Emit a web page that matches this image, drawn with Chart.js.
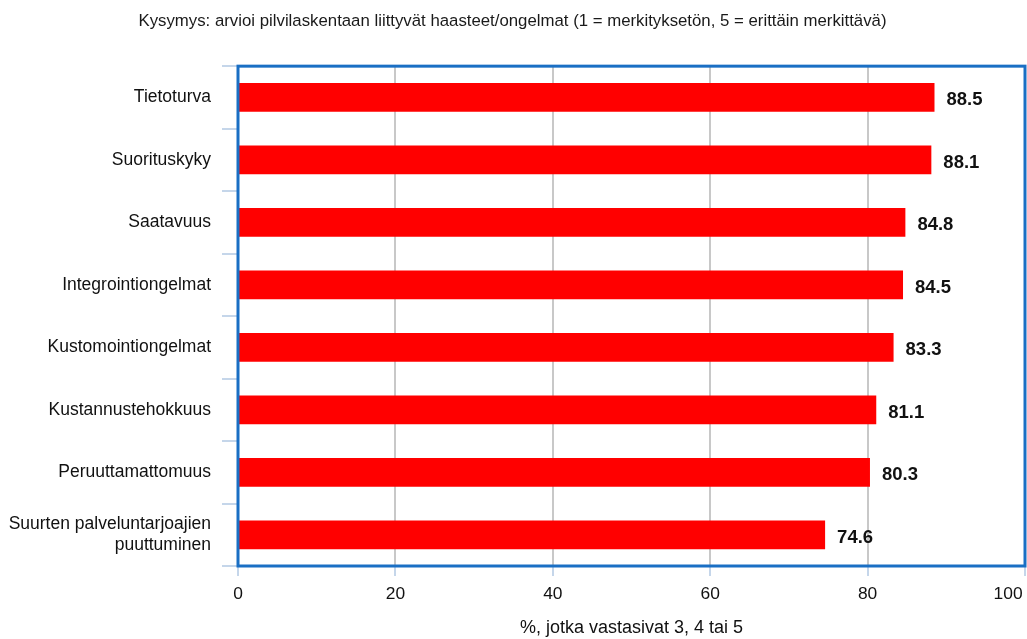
<!DOCTYPE html>
<html><head><meta charset="utf-8">
<script src="https://cdn.jsdelivr.net/npm/chart.js@4"></script>
<style>html,body{margin:0;padding:0;background:#fff}#wrap{width:1027px;height:639px}</style>
</head><body><div id="wrap"><canvas id="c" width="1027" height="639"></canvas></div>
<script>
const categories = ["Tietoturva","Suorituskyky","Saatavuus","Integrointiongelmat","Kustomointiongelmat","Kustannustehokkuus","Peruuttamattomuus",["Suurten palveluntarjoajien","puuttuminen"]];
const values = [88.5, 88.1, 84.8, 84.5, 83.3, 81.1, 80.3, 74.6];
const xTicks = [0, 20, 40, 60, 80, 100];
const titleText = "Kysymys: arvioi pilvilaskentaan liittyvät haasteet/ongelmat (1 = merkityksetön, 5 = erittäin merkittävä)";
const xTitle = "%, jotka vastasivat 3, 4 tai 5";

const FONT = "'Liberation Sans', Arial, sans-serif";

const valueLabels = {
  id: 'valueLabels',
  afterDatasetsDraw(chart) {
    const ctx = chart.ctx;
    const meta = chart.getDatasetMeta(0);
    ctx.save();
    ctx.font = "bold 18.5px " + FONT;
    ctx.fillStyle = "#111";
    ctx.textAlign = "left";
    ctx.textBaseline = "middle";
    meta.data.forEach((bar, i) => {
      ctx.fillText(values[i].toFixed(1), bar.x + 12, bar.y + 3);
    });
    ctx.restore();
  }
};
const frame = {
  id: 'frame',
  afterDraw(chart) {
    const a = chart.chartArea, ctx = chart.ctx;
    ctx.save();
    ctx.strokeStyle = "#1a6fc4";
    ctx.lineWidth = 3;
    ctx.strokeRect(a.left, a.top, a.right - a.left, a.bottom - a.top);
    ctx.restore();
  }
};

new Chart(document.getElementById('c'), {
  type: 'bar',
  data: {
    labels: categories,
    datasets: [{ data: values, backgroundColor: '#ff0000', borderWidth: 0, barPercentage: 0.92, categoryPercentage: 0.5 }]
  },
  options: {
    indexAxis: 'y',
    responsive: false,
    animation: false,
    devicePixelRatio: 1,
    layout: { padding: { left: 0, right: 2, top: 0, bottom: 0 } },
    plugins: {
      legend: { display: false },
      tooltip: { enabled: false },
      title: { display: true, text: titleText, color: '#1a1a1a', font: { family: FONT, size: 16.8, weight: 'normal' }, padding: { top: 11, bottom: 35 } }
    },
    scales: {
      x: {
        min: 0, max: 100,
        afterBuildTicks(s) { s.ticks = xTicks.map(v => ({ value: v })); },
        afterFit(s) { s.height = 73; s.paddingLeft = 0; s.paddingRight = 0; },
        grid: { color: '#c8c8c8', lineWidth: 2, tickColor: '#c5d6ea', tickLength: 10, drawTicks: true },
        border: { display: false },
        ticks: {
          color: '#111', font: { family: FONT, size: 17.4 }, padding: 8, maxRotation: 0,
          callback: (v) => v === 100 ? '100       ' : String(v)
        },
        title: { display: true, text: xTitle, color: '#111', font: { family: FONT, size: 18 }, padding: { top: 2, bottom: 0 } }
      },
      y: {
        afterFit(s) { s.width = 238; s.paddingTop = 0; s.paddingBottom = 0; },
        grid: { drawOnChartArea: false, offset: true, tickColor: '#c5d6ea', tickLength: 16, lineWidth: 2 },
        border: { display: false },
        ticks: { color: '#111', font: { family: FONT, size: 17.5 }, padding: 11, autoSkip: false }
      }
    }
  },
  plugins: [valueLabels, frame]
});
</script></body></html>
